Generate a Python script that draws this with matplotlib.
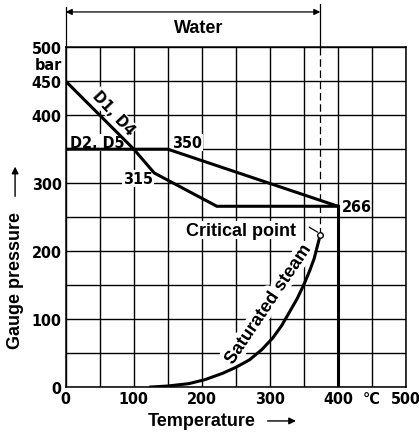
import matplotlib
matplotlib.use("Agg")
import matplotlib.pyplot as plt
from matplotlib.patches import FancyArrowPatch
import matplotlib.patheffects as pe

# pressure–temperature rating lines (temperature in °C, gauge pressure in bar)
d14_temp = [0, 100, 130, 222, 400]
d14_pres = [450, 350, 315, 266, 266]
d25_temp = [0, 150, 400]
d25_pres = [350, 350, 266]
limit_temp = [400, 400]
limit_pres = [266, 0]

# saturated steam curve as drawn, up to the critical point
steam_temp = [125, 150, 181, 205, 230, 250, 270, 288, 304, 317, 328, 340, 350, 358, 365, 374]
steam_pres = [0, 1.5, 5, 11, 20, 29, 40, 55, 72, 90, 109, 130, 151, 170, 189, 224]
crit_temp, crit_pres = 374, 224

x_ticks = list(range(0, 501, 50))
x_labels = ["0", "", "100", "", "200", "", "300", "", "400", "°C", "500"]
y_ticks = list(range(0, 501, 50))
y_labels = ["0", "", "100", "", "200", "", "300", "", "400", "450", "500"]

TXT = "Liberation Sans"
num = dict(fontsize=11.5, fontweight="bold", fontfamily="DejaVu Sans",
           fontstretch="condensed")
white = dict(facecolor="white", edgecolor="none", pad=0.6)

fig = plt.figure(figsize=(4.19, 4.35), dpi=100)
ax = fig.add_axes([0.157, 0.108, 0.812, 0.781])
ax.set_xlim(0, 500)
ax.set_ylim(0, 500)

ax.set_xticks(x_ticks)
ax.set_xticklabels(x_labels, **num)
ax.set_yticks(y_ticks)
ax.set_yticklabels(y_labels, **num)
ax.tick_params(length=0, pad=3)
ax.grid(True, color="black", lw=1.0)
for s in ax.spines.values():
    s.set_linewidth(1.1)

lw = 2.2
ax.plot(d14_temp, d14_pres, color="black", lw=lw, solid_joinstyle="miter", zorder=4)
ax.plot(d25_temp, d25_pres, color="black", lw=lw, solid_joinstyle="miter", zorder=4)
ax.plot(limit_temp, limit_pres, color="black", lw=lw, zorder=4)
ax.plot(steam_temp, steam_pres, color="black", lw=lw, zorder=4)

# critical point marker and dashed line up to the water range bracket
ax.plot([crit_temp, crit_temp], [crit_pres, 500], color="black", lw=0.9,
        ls=(0, (6, 3)))
ax.plot(crit_temp, crit_pres, "o", ms=4, mfc="white", mec="black", mew=1.0,
        zorder=6)
ax.plot([358, 370], [235, 228], color="black", lw=0.9, zorder=5)
ax.text(177, 231, "Critical point", fontsize=13, fontweight="bold",
        fontfamily=TXT, va="center", ha="left", bbox=white, zorder=3)

# "Water" bracket above the chart
ax.plot([0, 0], [500, 559], color="black", lw=0.9, clip_on=False)
ax.plot([crit_temp, crit_temp], [500, 563], color="black", lw=0.9, clip_on=False)
ax.annotate("", xy=(0, 552), xytext=(crit_temp, 552),
            arrowprops=dict(arrowstyle="<|-|>", color="black", lw=0.9,
                            mutation_scale=9, shrinkA=0, shrinkB=0),
            annotation_clip=False)
ax.text(196, 529, "Water", fontsize=13, fontweight="bold",
        fontfamily=TXT, ha="center", va="center")

# line labels
ax.text(70, 404, "D1, D4", rotation=-47, ha="center", va="center",
        bbox=white, zorder=3, **num)
ax.text(6, 360, "D2, D5", ha="left", va="center", bbox=white, zorder=3, **num)
ax.text(156, 360, "350", ha="left", va="center", bbox=white, zorder=3, **num)
ax.text(106, 307, "315", ha="center", va="center", bbox=white, zorder=3, **num)
ax.text(406, 265, "266", ha="left", va="center", **num)
ax.text(297, 121, "Saturated steam", fontsize=13, fontweight="bold",
        fontfamily=TXT, rotation=56, ha="center", va="center", zorder=3,
        path_effects=[pe.withStroke(linewidth=7, foreground="white")])
ax.text(-6, 475, "bar", ha="right", va="center", clip_on=False, **num)

# axis titles with arrows
fig.text(0.353, 0.03, "Temperature", fontsize=13, fontweight="bold",
         fontfamily=TXT, ha="left", va="center")
fig.add_artist(FancyArrowPatch(
    (0.632, 0.03), (0.713, 0.03), transform=fig.transFigure,
    arrowstyle="-|>", mutation_scale=10, color="black", lw=1.0))
fig.text(0.036, 0.356, "Gauge pressure", fontsize=13, fontweight="bold",
         fontfamily=TXT, rotation=90, ha="center", va="center")
fig.add_artist(FancyArrowPatch(
    (0.036, 0.54), (0.036, 0.621), transform=fig.transFigure,
    arrowstyle="-|>", mutation_scale=10, color="black", lw=1.0))

fig.savefig("out.png", dpi=100)
